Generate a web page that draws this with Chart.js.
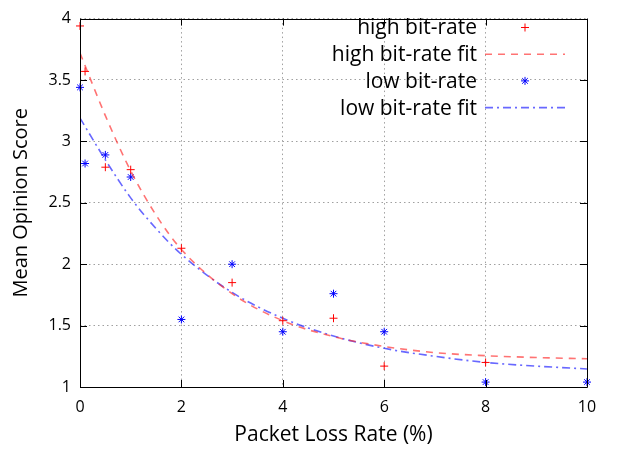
<!DOCTYPE html>
<html>
<head>
<meta charset="utf-8">
<script src="https://cdn.jsdelivr.net/npm/chart.js@4"></script>
<style>
  html, body { margin: 0; padding: 0; background: #fff; }
</style>
</head>
<body>
<canvas id="mosChart" width="617" height="450"></canvas>
<script>
// datos
const highLoss = [0, 0.1, 0.5, 1, 2, 3, 4, 5, 6, 8];
const highMos  = [3.94, 3.57, 2.79, 2.77, 2.13, 1.85, 1.54, 1.56, 1.17, 1.2];

const lowLoss = [0, 0.1, 0.5, 1, 2, 3, 4, 5, 6, 8, 10];
const lowMos  = [3.44, 2.82, 2.89, 2.71, 1.55, 2.0, 1.45, 1.76, 1.45, 1.04, 1.04];

// curvas de ajuste
const fitLoss = [0, 0.5, 1, 1.5, 2, 3, 4, 5, 6, 7, 8, 9, 10];
const highFit = [3.72, 3.21, 2.76, 2.40, 2.12, 1.76, 1.54, 1.41, 1.33, 1.28, 1.255, 1.24, 1.23];
const lowFit  = [3.19, 2.85, 2.54, 2.29, 2.08, 1.77, 1.56, 1.415, 1.315, 1.25, 1.2, 1.17, 1.147];

const xTicks = [0, 2, 4, 6, 8, 10];
const yTicks = [1, 1.5, 2, 2.5, 3, 3.5, 4];

function toPoints(xs, ys) {
  return xs.map((x, i) => ({ x: x, y: ys[i] }));
}

// borde negro y marcas hacia dentro (estilo gnuplot)
const bordePlugin = {
  id: 'borde',
  afterDatasetsDraw(chart) {
    const ctx = chart.ctx;
    const a = chart.chartArea;
    const sx = chart.scales.x, sy = chart.scales.y;
    const len = 7;
    ctx.save();
    ctx.strokeStyle = '#000';
    ctx.lineWidth = 1;
    ctx.beginPath();
    ctx.rect(Math.round(a.left) + 0.5, Math.round(a.top) + 0.5,
             Math.round(a.right - a.left), Math.round(a.bottom - a.top));
    ctx.stroke();
    ctx.beginPath();
    xTicks.forEach(v => {
      const px = Math.round(sx.getPixelForValue(v)) + 0.5;
      ctx.moveTo(px, a.bottom); ctx.lineTo(px, a.bottom - len);
      ctx.moveTo(px, a.top); ctx.lineTo(px, a.top + len);
    });
    yTicks.forEach(v => {
      const py = Math.round(sy.getPixelForValue(v)) + 0.5;
      ctx.moveTo(a.left, py); ctx.lineTo(a.left + len, py);
      ctx.moveTo(a.right, py); ctx.lineTo(a.right - len, py);
    });
    ctx.stroke();
    ctx.restore();
  }
};

// leyenda tipo gnuplot: texto a la derecha, muestra despues
const leyendaPlugin = {
  id: 'leyendaGnuplot',
  afterDraw(chart) {
    const ctx = chart.ctx;
    const textRight = 477;
    const sampleL = 485, sampleR = 565;
    const top = 27.5, step = 26.7;
    ctx.save();
    ctx.font = '21px "Open Sans"';
    ctx.textAlign = 'right';
    ctx.textBaseline = 'middle';
    chart.data.datasets.forEach((ds, i) => {
      const y = top + i * step;
      ctx.fillStyle = '#000';
      ctx.fillText(ds.label, textRight, y + 1);
      if (ds.showLine) {
        ctx.strokeStyle = ds.borderColor;
        ctx.lineWidth = ds.borderWidth;
        ctx.setLineDash(ds.borderDash || []);
        ctx.beginPath();
        ctx.moveTo(sampleL, y);
        ctx.lineTo(sampleR, y);
        ctx.stroke();
        ctx.setLineDash([]);
      } else {
        ctx.strokeStyle = ds.borderColor;
        ctx.lineWidth = 1;
        ctx.beginPath();
        const r = ds.pointRadius, cx = (sampleL + sampleR) / 2;
        ctx.moveTo(cx - r, y); ctx.lineTo(cx + r, y);
        ctx.moveTo(cx, y - r); ctx.lineTo(cx, y + r);
        if (ds.pointStyle === 'star') {
          const d = r * Math.SQRT1_2;
          ctx.moveTo(cx - d, y - d); ctx.lineTo(cx + d, y + d);
          ctx.moveTo(cx - d, y + d); ctx.lineTo(cx + d, y - d);
        }
        ctx.stroke();
      }
    });
    ctx.restore();
  }
};

const ctx = document.getElementById('mosChart');

const chart = new Chart(ctx, {
  type: 'scatter',
  data: {
    datasets: [{
      label: 'high bit-rate',
      data: toPoints(highLoss, highMos),
      borderColor: '#ff0000',
      backgroundColor: '#ff0000',
      pointStyle: 'cross',
      pointRadius: 4,
      pointBorderWidth: 1,
      showLine: false,
      clip: false
    }, {
      label: 'high bit-rate fit',
      data: toPoints(fitLoss, highFit),
      borderColor: 'rgba(255, 40, 40, 0.65)',
      borderWidth: 1.6,
      borderDash: [7, 6],
      pointRadius: 0,
      showLine: true,
      cubicInterpolationMode: 'monotone'
    }, {
      label: 'low bit-rate',
      data: toPoints(lowLoss, lowMos),
      borderColor: '#0000ff',
      backgroundColor: '#0000ff',
      pointStyle: 'star',
      pointRadius: 4,
      pointBorderWidth: 1,
      showLine: false,
      clip: false
    }, {
      label: 'low bit-rate fit',
      data: toPoints(fitLoss, lowFit),
      borderColor: 'rgba(40, 40, 255, 0.7)',
      borderWidth: 1.6,
      borderDash: [8, 4, 2, 4],
      pointRadius: 0,
      showLine: true,
      cubicInterpolationMode: 'monotone'
    }]
  },
  options: {
    responsive: false,
    animation: false,
    layout: { padding: { top: 7, right: 30, bottom: 0, left: 0 } },
    plugins: {
      legend: { display: false },
      tooltip: { enabled: false }
    },
    scales: {
      x: {
        type: 'linear',
        min: 0,
        max: 10,
        afterBuildTicks: (s) => { s.ticks = xTicks.map(v => ({ value: v })); },
        afterFit: (s) => { s.height = 63; },
        border: { display: false, dash: [1.5, 3] },
        grid: {
          color: '#a0a0a0',
          drawTicks: false
        },
        ticks: {
          padding: 11,
          color: '#000',
          font: { family: 'Open Sans', size: 16 },
          callback: (v) => String(v)
        },
        title: {
          display: true,
          text: 'Packet Loss Rate (%)',
          color: '#000',
          font: { family: 'Open Sans', size: 21 },
          padding: { top: 0, bottom: 2 }
        }
      },
      y: {
        type: 'linear',
        min: 1,
        max: 4,
        afterBuildTicks: (s) => { s.ticks = yTicks.map(v => ({ value: v })); },
        afterFit: (s) => { s.width = 80; },
        border: { display: false, dash: [1.5, 3] },
        grid: {
          color: '#a0a0a0',
          drawTicks: false
        },
        ticks: {
          padding: 9,
          color: '#000',
          font: { family: 'Open Sans', size: 16 },
          callback: (v) => String(v)
        },
        title: {
          display: true,
          text: 'Mean Opinion Score',
          color: '#000',
          font: { family: 'Open Sans', size: 20 },
          padding: { top: 9, bottom: 0 }
        }
      }
    }
  },
  plugins: [bordePlugin, leyendaPlugin]
});
</script>
</body>
</html>
